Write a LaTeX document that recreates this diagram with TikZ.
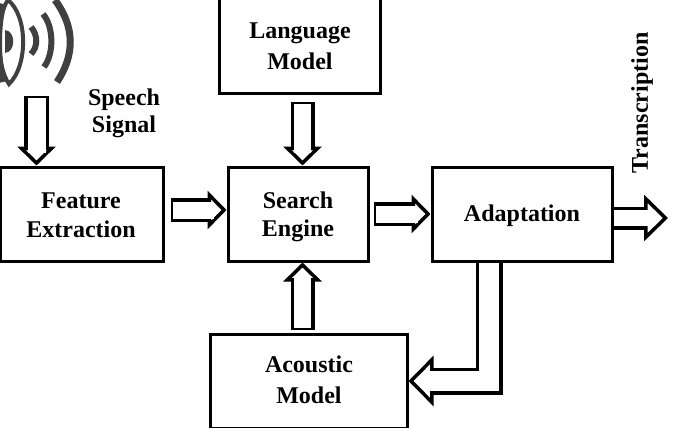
\documentclass[tikz,border=0pt]{standalone}
\usepackage{fontspec}
\setmainfont{Liberation Serif}
\usetikzlibrary{arrows.meta,calc}

\definecolor{speakergray}{gray}{0.25}

\tikzset{
    boxnode/.style={draw=black,line width=3pt,minimum height=94pt,inner sep=0pt},
    labelnode/.style={font=\fontsize{24}{#1}\selectfont\bfseries,align=center,inner sep=0pt},
    labelnode/.default=30,
    blockarrow/.style n args={3}{
        draw=black,line width=3.5pt,double=white,double distance=#1,
        line cap=butt,miter limit=10,
        -{Triangle[open,fill=white,length=#3,width=#2,line width=3.5pt]},
        postaction={draw=white,line width=#1,arrows=-,shorten >=#3-6pt,shorten <=2pt}
    },
    closedarrow/.style n args={3}{
        blockarrow={#1}{#2}{#3},
        {Bar[width=#1+7pt,line width=3.5pt]}-{Triangle[open,fill=white,length=#3,width=#2,line width=3.5pt]}
    },
    wave/.style={draw=speakergray,line width=#1},
}

\begin{document}
\begin{tikzpicture}[x=1pt,y=-1pt]
    \useasboundingbox (0,0) rectangle (688,428);

    % free ends of the arrows
    \coordinate (Ms) at (36.5,96);
    \coordinate (Fs) at (170.5,210);
    \coordinate (Ls) at (302.5,101.5);
    \coordinate (Ss) at (373.5,214);
    \coordinate (As) at (302.5,330);
    \coordinate (Ao) at (668,218);

    % boxes
    \node[boxnode,minimum width=163pt] (FE) at (81.5,214) {};
    \node[boxnode,minimum width=161pt] (LM) at (299.5,46) {};
    \node[boxnode,minimum width=140pt] (SE) at (298,214) {};
    \node[boxnode,minimum width=180pt] (AD) at (522,214) {};
    \node[boxnode,minimum width=197pt] (AM) at (308.5,381) {};

    \node[labelnode=29] (FEt) at (81,215) {Feature\\Extraction};
    \node[labelnode=31] (LMt) at (300,46) {Language\\Model};
    \node[labelnode=28] (SEt) at (298,217) {Search\\Engine};
    \node[labelnode] (ADt) at (522,216) {Adaptation};
    \node[labelnode=31] (AMt) at (309,380) {Acoustic\\Model};
    \node[labelnode=27] (SP) at (124,113) {Speech\\Signal};
    \node[labelnode,rotate=90] (TR) at (642,103) {Transcription};

    \draw[closedarrow={18pt}{38pt}{19pt}] (Ms) -- (Ms |- FE.north);
    \draw[closedarrow={17pt}{38pt}{19pt}] (Fs) -- (Fs -| SE.west);
    \draw[closedarrow={17pt}{38pt}{19pt}] (Ls) -- (Ls |- SE.north);
    \draw[closedarrow={17pt}{38pt}{19pt}] (Ss) -- (Ss -| AD.west);
    \draw[closedarrow={17pt}{38pt}{19pt}] (As) -- (As |- SE.south);
    \draw[blockarrow={16pt}{46pt}{24pt}] (Ao -| AD.east) -- (Ao);
    \draw[blockarrow={20pt}{50pt}{25pt}] ($(AD.south)+(-33,0)$) |- (AM.east);

    % speaker
    \draw[wave=4pt] (8,0) .. controls (28,16) and (28,66) .. (9,84) .. controls (-4,66) and (-4,16) .. (8,0);
    \draw[wave=7pt] (3,4) .. controls (-3,25) and (-3,60) .. (3,82);
    \fill[speakergray] (5,30) .. controls (16,31) and (16,52) .. (5,53) -- cycle;
    \draw[wave=6pt] (31,27) .. controls (38,35) and (38,47) .. (31,54);
    \draw[wave=6pt] (43,14) .. controls (54,27) and (54,54) .. (44,67);
    \draw[wave=7pt] (55,0) .. controls (75,27) and (75,55) .. (57,82);
\end{tikzpicture}
\end{document}
